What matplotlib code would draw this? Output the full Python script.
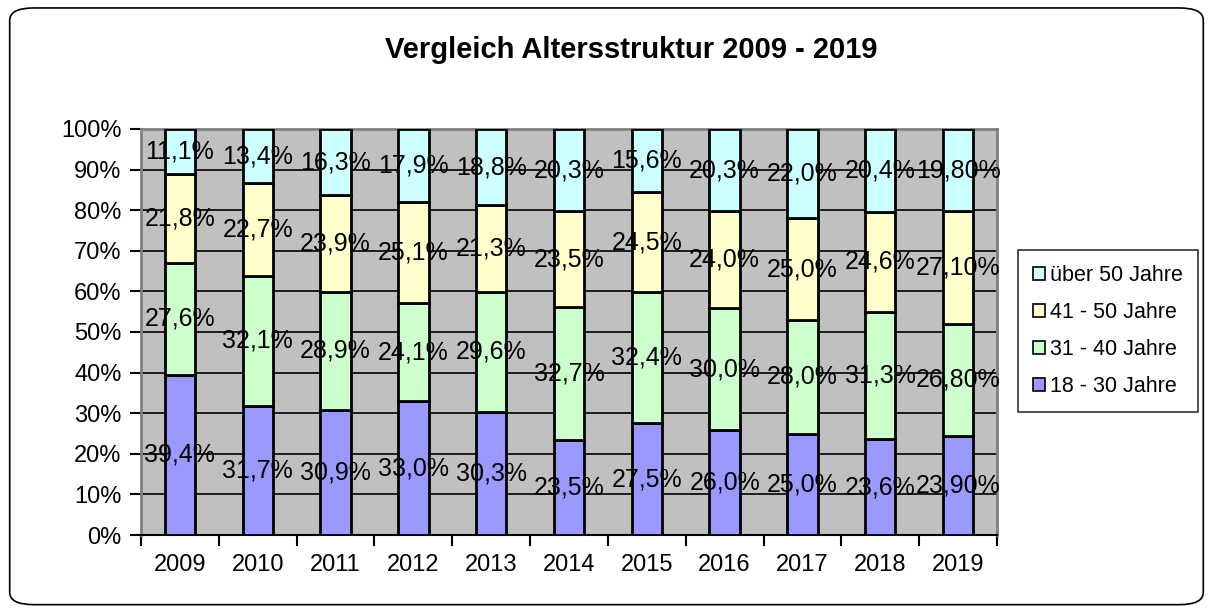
import numpy as np
import matplotlib
matplotlib.use("Agg")
from matplotlib import pyplot as plt
from matplotlib.patches import FancyBboxPatch

years = ["2009", "2010", "2011", "2012", "2013", "2014", "2015", "2016", "2017", "2018", "2019"]
age_18_30 = [39.4, 31.7, 30.9, 33.0, 30.3, 23.5, 27.5, 26.0, 25.0, 23.6, 23.9]
age_31_40 = [27.6, 32.1, 28.9, 24.1, 29.6, 32.7, 32.4, 30.0, 28.0, 31.3, 26.8]
age_41_50 = [21.8, 22.7, 23.9, 25.1, 21.3, 23.5, 24.5, 24.0, 25.0, 24.6, 27.1]
age_50_plus = [11.1, 13.4, 16.3, 17.9, 18.8, 20.3, 15.6, 20.3, 22.0, 20.4, 19.8]
decimals = [1, 1, 1, 1, 1, 1, 1, 1, 1, 1, 2]

series = [
    ("18 - 30 Jahre", age_18_30, "#9999FF"),
    ("31 - 40 Jahre", age_31_40, "#CCFFCC"),
    ("41 - 50 Jahre", age_41_50, "#FFFFCC"),
    ("über 50 Jahre", age_50_plus, "#CCFFFF"),
]

plt.rcParams['font.family'] = ['Liberation Sans', 'DejaVu Sans']

fig = plt.figure(figsize=(12.13, 6.12), dpi=100)
# rounded frame around the whole chart (behind the axes)
frame = FancyBboxPatch((0.008, 0.012), 0.984, 0.975, boxstyle="round,pad=0,rounding_size=0.02",
                       transform=fig.transFigure, facecolor="none", edgecolor="black", lw=1.2, zorder=-5)
fig.patches.append(frame)

ax = fig.add_axes([141/1213, 1 - 535/612, (997-141)/1213, (535-129)/612])
ax.set_facecolor("#C0C0C0")

x = np.arange(len(years))
totals = np.array(age_18_30) + np.array(age_31_40) + np.array(age_41_50) + np.array(age_50_plus)
bottom = np.zeros(len(years))
for name, vals, color in series:
    h = np.array(vals) / totals * 100
    ax.bar(x, h, 0.39, bottom=bottom, color=color, edgecolor="black", lw=2, label=name, zorder=3)
    for i in range(len(years)):
        txt = f"{vals[i]:.{decimals[i]}f}%".replace(".", ",")
        ax.text(x[i], bottom[i] + h[i] / 2, txt, ha="center", va="center", fontsize=18, zorder=4)
    bottom += h

ax.set_xlim(-0.5, len(years) - 0.5)
ax.set_ylim(0, 100)
ax.set_yticks(range(0, 101, 10))
ax.set_yticklabels([f"{v}%" for v in range(0, 101, 10)], fontsize=17)
ax.yaxis.grid(True, color="black", lw=1.2, zorder=1)
ax.set_axisbelow(True)
ax.tick_params(axis="y", direction="out", length=8, width=1.5, pad=6)
ax.set_xticks(x)
ax.set_xticklabels(years, fontsize=17)
ax.tick_params(axis="x", length=0, pad=14)
ax.set_xticks(np.arange(-0.5, len(years), 1), minor=True)
ax.tick_params(axis="x", which="minor", direction="out", length=8, width=1.5)
for s in ["top", "right", "left"]:
    ax.spines[s].set_color("#808080")
    ax.spines[s].set_linewidth(2)
ax.spines["bottom"].set_color("black")
ax.spines["bottom"].set_linewidth(1.5)

fig.text(631/1213, 1 - 50/612, "Vergleich Altersstruktur 2009 - 2019", ha="center", va="center",
         fontsize=21, fontweight="bold")

handles, labels = ax.get_legend_handles_labels()
leg = fig.legend(handles[::-1], labels[::-1], loc="center", bbox_to_anchor=(1108/1213, 1 - 331/612),
                 fontsize=15.5, frameon=True, fancybox=False, edgecolor="black", handlelength=0.55,
                 handleheight=0.55, handletextpad=0.2, labelspacing=0.75, borderpad=0.7)
leg.get_frame().set_linewidth(1.2)
for p in leg.get_patches():
    p.set_linewidth(1.2)

fig.savefig("out.png", dpi=100)
